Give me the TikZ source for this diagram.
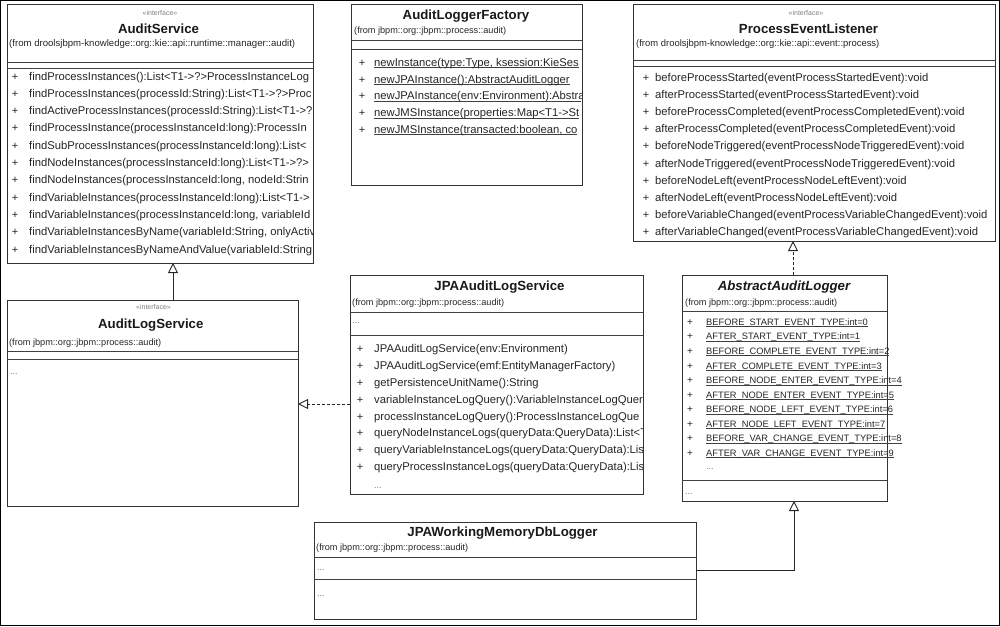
\documentclass[tikz,border=0pt]{standalone}
\usepackage{fontspec}
\setmainfont{Liberation Sans}
\usetikzlibrary{arrows.meta}
\newcommand\fsz[1]{\fontsize{#1}{#1}\selectfont}
\newcommand\myul[1]{\setbox0\hbox{#1}\rlap{\color{black!75}\rule[-1.5pt]{\wd0}{0.6pt}}\box0}
\tikzset{
  x=1pt, y=-1pt,
  umlbox/.style={draw=black!80, line width=1pt, fill=white, anchor=north west, inner sep=0pt, outer sep=0pt},
  stereo/.style={font=\fsz{7}, text=black!50, inner sep=0pt, anchor=base},
  ctitle/.style={font=\fsz{13.25}\bfseries, text=black!90, inner sep=0pt, anchor=base},
  fromtxt/.style={font=\fsz{9.15}, text=black!85, inner sep=0pt, anchor=base west},
  member/.style={font=\fsz{11.25}, text=black!85, inner sep=0pt, anchor=base west},
  plus/.style={font=\fsz{11}, text=black!85, inner sep=0pt, anchor=base},
  attr/.style={font=\fsz{9.3}, text=black!85, inner sep=0pt, anchor=base west},
  dots/.style={font=\fsz{9}, text=black!55, inner sep=0pt, anchor=base west},
  sep/.style={draw=black!75, line width=0.8pt},
  gen/.style={draw=black!85, line width=0.9pt, -{Triangle[open, length=10pt, width=10pt, fill=white]}},
  real/.style={gen, dash pattern=on 3pt off 2pt},
}
\begin{document}
\begin{tikzpicture}
\useasboundingbox (0,0) rectangle (1000,626);
\draw[black, line width=1pt] (0.5,0.5) rectangle (999.5,625.5);

% ---------------- AuditService
\node[umlbox, minimum width=306pt, minimum height=258pt] (as) at (7,5) {};
\node[stereo] (as-st) at (160,15.5) {«interface»};
\node[ctitle] (as-t) at (158.5,34) {AuditService};
\node[fromtxt, font=\fsz{9.6}] (as-f) at (9,46.6) {(from droolsjbpm-knowledge::org::kie::api::runtime::manager::audit)};
\draw[sep] (as.west |- 0,62) -- (as.east |- 0,62);
\draw[sep] (as.west |- 0,68) -- (as.east |- 0,68);
\begin{scope}
\clip (as.north west) rectangle ([xshift=-1pt]as.south east);
\foreach \t [count=\i from 0] in {
 {findProcessInstances():List<T1->?>ProcessInstanceLog},
 {findProcessInstances(processId:String):List<T1->?>Proc},
 {findActiveProcessInstances(processId:String):List<T1->?},
 {findProcessInstance(processInstanceId:long):ProcessIn},
 {findSubProcessInstances(processInstanceId:long):List<},
 {findNodeInstances(processInstanceId:long):List<T1->?>},
 {findNodeInstances(processInstanceId:long, nodeId:Strin},
 {findVariableInstances(processInstanceId:long):List<T1->},
 {findVariableInstances(processInstanceId:long, variableId},
 {findVariableInstancesByName(variableId:String, onlyActiv},
 {findVariableInstancesByNameAndValue(variableId:String}} {
  \pgfmathsetmacro\yy{80+17.3*\i}
  \node[plus] (as-p\i) at (15,\yy) {+};
  \node[member] (as-m\i) at (29,\yy) {\t};
}
\end{scope}

% ---------------- AuditLoggerFactory
\node[umlbox, minimum width=231pt, minimum height=180pt] (alf) at (351,5) {};
\node[ctitle] (alf-t) at (466,19.8) {AuditLoggerFactory};
\node[fromtxt] (alf-f) at (354,33.3) {(from jbpm::org::jbpm::process::audit)};
\draw[sep] (alf.west |- 0,40) -- (alf.east |- 0,40);
\draw[sep] (alf.west |- 0,49) -- (alf.east |- 0,49);
\begin{scope}
\clip (alf.north west) rectangle ([xshift=-1pt]alf.south east);
\foreach \t [count=\i from 0] in {
 {newInstance(type:Type, ksession:KieSes},
 {newJPAInstance():AbstractAuditLogger},
 {newJPAInstance(env:Environment):Abstra},
 {newJMSInstance(properties:Map<T1->St},
 {newJMSInstance(transacted:boolean, co}} {
  \pgfmathsetmacro\yy{66.2+16.8*\i}
  \node[plus] (alf-p\i) at (362,\yy) {+};
  \node[member] (alf-m\i) at (374,\yy) {\myul{\t}};
}
\end{scope}

% ---------------- ProcessEventListener
\node[umlbox, minimum width=362pt, minimum height=236pt] (pel) at (633,5) {};
\node[stereo] (pel-st) at (806,15.5) {«interface»};
\node[ctitle] (pel-t) at (808.5,34) {ProcessEventListener};
\node[fromtxt, font=\fsz{9.45}] (pel-f) at (636,46.6) {(from droolsjbpm-knowledge::org::kie::api::event::process)};
\draw[sep] (pel.west |- 0,60) -- (pel.east |- 0,60);
\draw[sep] (pel.west |- 0,66) -- (pel.east |- 0,66);
\foreach \t [count=\i from 0] in {
 {beforeProcessStarted(eventProcessStartedEvent):void},
 {afterProcessStarted(eventProcessStartedEvent):void},
 {beforeProcessCompleted(eventProcessCompletedEvent):void},
 {afterProcessCompleted(eventProcessCompletedEvent):void},
 {beforeNodeTriggered(eventProcessNodeTriggeredEvent):void},
 {afterNodeTriggered(eventProcessNodeTriggeredEvent):void},
 {beforeNodeLeft(eventProcessNodeLeftEvent):void},
 {afterNodeLeft(eventProcessNodeLeftEvent):void},
 {beforeVariableChanged(eventProcessVariableChangedEvent):void},
 {afterVariableChanged(eventProcessVariableChangedEvent):void}} {
  \pgfmathsetmacro\yy{81.5+17.1*\i}
  \node[plus] (pel-p\i) at (646,\yy) {+};
  \node[member] (pel-m\i) at (655,\yy) {\t};
}

% ---------------- AuditLogService
\node[umlbox, minimum width=291pt, minimum height=206pt] (als) at (7,300) {};
\node[stereo] (als-st) at (153.5,309.5) {«interface»};
\node[ctitle] (als-t) at (150.8,328) {AuditLogService};
\node[fromtxt] (als-f) at (9,345.6) {(from jbpm::org::jbpm::process::audit)};
\draw[sep] (als.west |- 0,351) -- (als.east |- 0,351);
\draw[sep] (als.west |- 0,359) -- (als.east |- 0,359);
\node[dots] (als-d) at (10,374.5) {...};

% ---------------- JPAAuditLogService
\node[umlbox, minimum width=293pt, minimum height=219pt] (jals) at (350,275) {};
\node[ctitle] (jals-t) at (499.5,290.8) {JPAAuditLogService};
\node[fromtxt] (jals-f) at (352,305.3) {(from jbpm::org::jbpm::process::audit)};
\draw[sep] (jals.west |- 0,312) -- (jals.east |- 0,312);
\node[dots] (jals-d1) at (352,323.5) {...};
\draw[sep] (jals.west |- 0,335) -- (jals.east |- 0,335);
\begin{scope}
\clip (jals.north west) rectangle ([xshift=-1pt]jals.south east);
\foreach \t [count=\i from 0] in {
 {JPAAuditLogService(env:Environment)},
 {JPAAuditLogService(emf:EntityManagerFactory)},
 {getPersistenceUnitName():String},
 {variableInstanceLogQuery():VariableInstanceLogQuer},
 {processInstanceLogQuery():ProcessInstanceLogQue},
 {queryNodeInstanceLogs(queryData:QueryData):List<T},
 {queryVariableInstanceLogs(queryData:QueryData):Lis},
 {queryProcessInstanceLogs(queryData:QueryData):Lis}} {
  \pgfmathsetmacro\yy{352.7+16.85*\i}
  \node[plus] (jals-p\i) at (360,\yy) {+};
  \node[member] (jals-m\i) at (374,\yy) {\t};
}
\end{scope}
\node[dots] (jals-d2) at (374,488.5) {...};

% ---------------- AbstractAuditLogger
\node[umlbox, minimum width=205pt, minimum height=226pt] (aal) at (682,275) {};
\node[ctitle, font=\fsz{13.25}\bfseries\itshape] (aal-t) at (784,290.8) {AbstractAuditLogger};
\node[fromtxt] (aal-f) at (685,305.3) {(from jbpm::org::jbpm::process::audit)};
\draw[sep] (aal.west |- 0,311) -- (aal.east |- 0,311);
\foreach \t [count=\i from 0] in {
 {BEFORE\_START\_EVENT\_TYPE:int=0},
 {AFTER\_START\_EVENT\_TYPE:int=1},
 {BEFORE\_COMPLETE\_EVENT\_TYPE:int=2},
 {AFTER\_COMPLETE\_EVENT\_TYPE:int=3},
 {BEFORE\_NODE\_ENTER\_EVENT\_TYPE:int=4},
 {AFTER\_NODE\_ENTER\_EVENT\_TYPE:int=5},
 {BEFORE\_NODE\_LEFT\_EVENT\_TYPE:int=6},
 {AFTER\_NODE\_LEFT\_EVENT\_TYPE:int=7},
 {BEFORE\_VAR\_CHANGE\_EVENT\_TYPE:int=8},
 {AFTER\_VAR\_CHANGE\_EVENT\_TYPE:int=9}} {
  \pgfmathsetmacro\yy{325.4+14.55*\i}
  \node[plus, font=\fsz{10}] (aal-p\i) at (690,\yy) {+};
  \node[attr] (aal-m\i) at (706,\yy) {\myul{\t}};
}
\node[dots] (aal-d1) at (706,469.5) {...};
\draw[sep] (aal.west |- 0,480) -- (aal.east |- 0,480);
\node[dots] (aal-d2) at (685,494.5) {...};

% ---------------- JPAWorkingMemoryDbLogger
\node[umlbox, minimum width=382pt, minimum height=97pt] (wm) at (314,522) {};
\node[ctitle] (wm-t) at (502.5,536.8) {JPAWorkingMemoryDbLogger};
\node[fromtxt] (wm-f) at (316,550.3) {(from jbpm::org::jbpm::process::audit)};
\draw[sep] (wm.west |- 0,557) -- (wm.east |- 0,557);
\node[dots] (wm-d1) at (317,570.5) {...};
\draw[sep] (wm.west |- 0,579) -- (wm.east |- 0,579);
\node[dots] (wm-d2) at (317,596.5) {...};

% ---------------- connectors
\coordinate (bend) at (794,570.5);
\draw[gen] (als.north -| 173,0) -- (as.south -| 173,0);
\draw[real] (jals.west |- 0,404) -- (als.east |- 0,404);
\draw[real] (aal.north -| 793,0) -- (pel.south -| 793,0);
\draw[gen] (wm.east) -- (bend) -- (aal.south -| bend);
\end{tikzpicture}
\end{document}
